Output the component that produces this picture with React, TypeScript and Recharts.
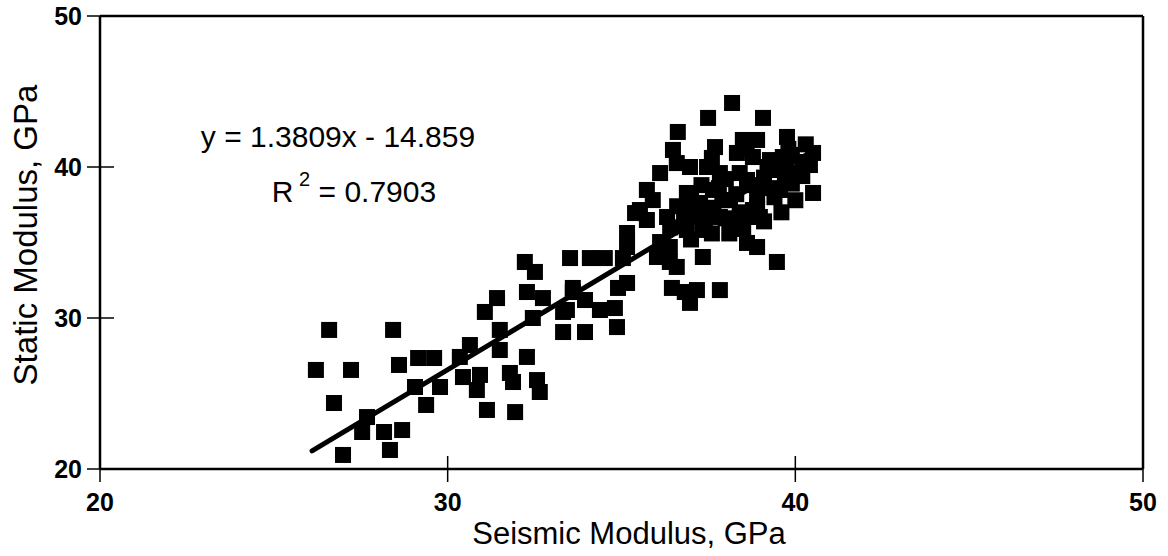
import { Label, ReferenceLine, Scatter, ScatterChart, XAxis, YAxis } from "recharts";

// seismic modulus (GPa)
const seismicModulus = [
  26.21, 26.59, 27.22, 26.73, 26.99, 27.54, 27.68, 28.17, 28.34, 28.69,
  28.43, 28.6, 29.15, 29.61, 29.06, 29.38, 29.78, 30.44, 30.35, 30.64,
  31.07, 31.42, 30.93, 30.84, 31.13, 31.5, 31.5, 31.79, 31.88, 31.94,
  32.28, 32.45, 32.57, 32.65, 32.22, 32.51, 32.28, 32.74, 33.32, 33.6,
  33.32, 33.52, 34.09, 34.52, 35.04, 35.16, 35.39, 35.16, 34.9, 33.6,
  33.95, 33.43, 34.38, 34.81, 34.87, 33.95, 36.45, 36.82, 36.39, 36.11,
  35.73, 38.18, 37.49, 39.07, 36.62, 37.69, 38.49, 38.9, 39.76, 40.51,
  40.22, 40.51, 36.48, 36.59, 36.11, 36.97, 37.46, 37.83, 38.32, 38.78,
  39.27, 39.64, 39.93, 39.56, 39.07, 38.61, 35.73, 35.53, 35.16, 35.9,
  36.31, 36.88, 37.26, 37.63, 38.12, 38.78, 38.98, 37.83, 37.34, 36.88,
  36.39, 36.59, 37.34, 38.61, 39.47, 37.17, 37.83, 36.97, 36.02, 40.42,
  38.9, 38.61, 36.4, 36.8, 37.1, 37.5, 37.9, 38.3, 38.7, 39.1,
  39.5, 37.0, 37.6, 38.2, 38.9, 39.4, 39.9, 40.2, 36.6, 37.3,
  38.0, 39.2, 39.8, 40.3, 37.4, 38.0, 38.4, 38.9, 39.3, 39.7,
  37.8, 38.4, 37.0, 36.9, 38.1, 38.5, 39.1, 39.6, 40.0, 39.9,
  37.6, 38.6,
];

// static modulus (GPa), same order
const staticModulus = [
  26.56, 29.21, 26.56, 24.37, 20.93, 22.45, 23.44, 22.45, 21.26, 22.58,
  29.21, 26.89, 27.35, 27.35, 25.43, 24.24, 25.43, 26.09, 27.42, 28.21,
  30.4, 31.32, 26.23, 25.23, 23.91, 29.21, 27.88, 26.36, 25.76, 23.77,
  27.42, 30.0, 25.89, 25.1, 33.71, 33.05, 31.72, 31.32, 30.4, 31.72,
  29.07, 33.97, 33.97, 33.97, 33.97, 35.63, 36.95, 32.32, 31.99, 31.99,
  31.19, 30.53, 30.53, 30.66, 29.4, 29.07, 31.99, 31.72, 33.71, 35.03,
  36.49, 44.24, 43.25, 43.25, 42.32, 41.32, 41.79, 41.79, 41.99, 40.93,
  40.33, 38.28, 41.13, 40.26, 39.6, 40.0, 40.0, 39.6, 40.93, 40.66,
  40.46, 40.66, 39.6, 38.48, 38.68, 39.14, 38.48, 37.15, 34.7, 37.81,
  36.69, 38.28, 37.62, 38.48, 37.81, 37.15, 36.69, 36.69, 35.83, 35.83,
  34.7, 33.38, 34.04, 34.97, 33.71, 31.85, 31.85, 31.0, 34.04, 40.13,
  34.7, 36.69, 36.0, 36.4, 36.9, 37.3, 37.8, 38.2, 38.8, 39.3,
  39.8, 35.2, 35.6, 36.3, 37.4, 38.0, 38.9, 39.4, 37.4, 38.8,
  39.2, 40.0, 41.2, 41.5, 36.3, 36.6, 37.0, 38.0, 38.6, 39.2,
  38.6, 39.6, 38.0, 37.0, 35.6, 35.9, 36.4, 37.0, 37.8, 40.8,
  40.6, 41.2,
];

// ends of the fitted line y = 1.3809x - 14.859 as drawn
const trendStart = { x: 26.1, y: 21.2 };
const trendEnd = { x: 40.6, y: 41.2 };

const axisTicks = [20, 30, 40, 50];

const points = seismicModulus.map((x, i) => ({ x, y: staticModulus[i] }));

const FONT = "Arial, 'Liberation Sans', Helvetica, sans-serif";

function SquareDot(props: any) {
  const { cx, cy } = props;
  if (cx == null || cy == null) return null;
  return <rect x={cx - 8} y={cy - 8} width={16} height={16} fill="#000" />;
}

function XTick(props: any) {
  const { x, y, payload } = props;
  return (
    <g>
      <line x1={x} x2={x} y1={y - 13} y2={y + 13} stroke="#000" strokeWidth={1.5} />
      <text x={x} y={y + 42} textAnchor="middle" fontFamily={FONT} fontSize={25} fontWeight="bold" fill="#000">
        {payload.value}
      </text>
    </g>
  );
}

function YTick(props: any) {
  const { x, y, payload } = props;
  return (
    <g>
      <line x1={x - 13} x2={x + 14} y1={y} y2={y} stroke="#000" strokeWidth={1.5} />
      <text x={x - 18} y={y + 9} textAnchor="end" fontFamily={FONT} fontSize={25} fontWeight="bold" fill="#000">
        {payload.value}
      </text>
    </g>
  );
}

export default function App() {
  return (
    <div style={{ position: "absolute", left: 0, top: 0, width: 1168, height: 556, background: "#fff" }}>
      <ScatterChart width={1168} height={556} margin={{ top: 16, right: 25, bottom: 0, left: 0 }}>
        <XAxis
          type="number"
          dataKey="x"
          domain={[20, 50]}
          ticks={axisTicks}
          allowDataOverflow
          height={87}
          tickLine={false}
          tickSize={0}
          tickMargin={0}
          axisLine={{ stroke: "#000", strokeWidth: 2.5 }}
          tick={<XTick />}
        >
          <Label
            content={() => (
              <text x={629} y={544} textAnchor="middle" fontFamily={FONT} fontSize={31} fill="#000">
                Seismic Modulus, GPa
              </text>
            )}
          />
        </XAxis>
        <YAxis
          type="number"
          dataKey="y"
          domain={[20, 50]}
          ticks={axisTicks}
          allowDataOverflow
          width={100}
          tickLine={false}
          tickSize={0}
          tickMargin={0}
          axisLine={{ stroke: "#000", strokeWidth: 2.5 }}
          tick={<YTick />}
        >
          <Label
            content={() => (
              <text
                x={37}
                y={235}
                transform="rotate(-90 37 235)"
                textAnchor="middle"
                fontFamily={FONT}
                fontSize={33}
                fill="#000"
              >
                Static Modulus, GPa
              </text>
            )}
          />
        </YAxis>
        <ReferenceLine y={50} stroke="#000" strokeWidth={2.5} />
        <ReferenceLine x={50} stroke="#000" strokeWidth={2.5} />
        <Scatter data={points} shape={<SquareDot />} isAnimationActive={false} />
        <ReferenceLine
          segment={[trendStart, trendEnd]}
          stroke="#000"
          strokeWidth={5}
          strokeLinecap="round"
        >
          <Label
            content={() => (
              <g fontFamily={FONT} fontSize={30} fill="#000">
                <text x={338} y={147} textAnchor="middle">
                  y = 1.3809x - 14.859
                </text>
                <text x={354} y={202} textAnchor="middle">
                  R<tspan fontSize={20} dy={-16}> 2</tspan>
                  <tspan dy={16}> = 0.7903</tspan>
                </text>
              </g>
            )}
          />
        </ReferenceLine>
      </ScatterChart>
    </div>
  );
}
